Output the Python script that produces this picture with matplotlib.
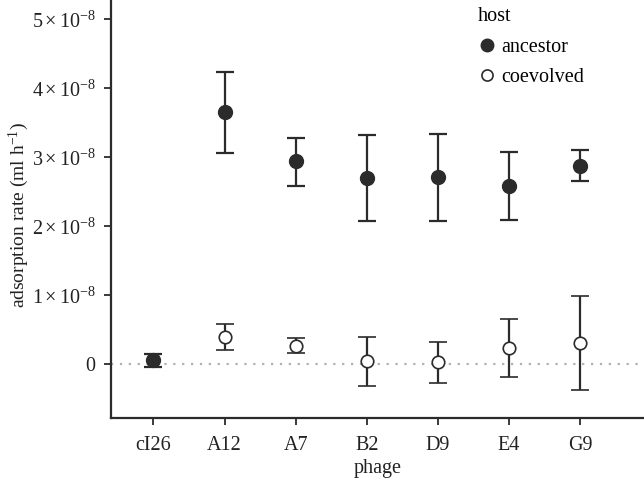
import matplotlib
matplotlib.use("Agg")
import matplotlib.pyplot as plt
from matplotlib.lines import Line2D
import numpy as np

plt.rcParams['font.family'] = ['Liberation Serif', 'DejaVu Serif']
plt.rcParams['mathtext.fontset'] = 'custom'
plt.rcParams['mathtext.rm'] = 'Liberation Serif'
plt.rcParams['mathtext.it'] = 'Liberation Serif:italic'

phages = ['cI26', 'A12', 'A7', 'B2', 'D9', 'E4', 'G9']

# ancestor host (units of 1e-8 ml/h)
anc_mean = [0.06, 3.65, 2.94, 2.70, 2.71, 2.58, 2.88]
anc_low = [-0.04, 3.06, 2.59, 2.08, 2.08, 2.09, 2.65]
anc_high = [0.145, 4.24, 3.28, 3.32, 3.34, 3.07, 3.11]

# coevolved host (cI26 has no coevolved value)
coe_phages = ['A12', 'A7', 'B2', 'D9', 'E4', 'G9']
coe_mean = [0.40, 0.27, 0.04, 0.03, 0.24, 0.30]
coe_low = [0.21, 0.155, -0.32, -0.27, -0.19, -0.38]
coe_high = [0.58, 0.38, 0.40, 0.32, 0.66, 0.99]

scale = 1e-8
yticks = [0, 1, 2, 3, 4, 5]
ytick_labels = ['0'] + [r'$%d\times10^{-8}$' % v for v in yticks[1:]]

fig = plt.figure(figsize=(6.44, 4.83), dpi=100)
ax = fig.add_axes([0.172, 0.1346, 0.828, 0.8654])

col = '#2b2b2b'
txt = '#222222'
fs = 14.5
xa = np.arange(len(phages))
xc = np.array([phages.index(p) for p in coe_phages])

am = np.array(anc_mean) * scale
ae = np.vstack([am - np.array(anc_low) * scale, np.array(anc_high) * scale - am])
cm = np.array(coe_mean) * scale
ce = np.vstack([cm - np.array(coe_low) * scale, np.array(coe_high) * scale - cm])

ax.axhline(0, color='#b0b0b0', ls=(0, (1, 3)), lw=1.6, zorder=0)

ax.errorbar(xa, am, yerr=ae, fmt='o', color=col, ecolor=col, elinewidth=1.6,
            capsize=6.5, capthick=1.6, markersize=10, markerfacecolor=col,
            markeredgecolor=col, zorder=3)
ax.errorbar(xc, cm, yerr=ce, fmt='o', color=col, ecolor=col, elinewidth=1.6,
            capsize=6.5, capthick=1.6, markersize=9, markerfacecolor='white',
            markeredgecolor=col, markeredgewidth=1.2, zorder=3)

ax.set_xlim(-0.6, 6.9)
ax.set_ylim(-0.78e-8, 5.28e-8)
ax.set_xticks(xa)
ax.set_xticklabels(phages)
ax.set_yticks(np.array(yticks) * scale)
ax.set_yticklabels(ytick_labels)

for s in ['top', 'right']:
    ax.spines[s].set_visible(False)
for s in ['left', 'bottom']:
    ax.spines[s].set_linewidth(1.6)
    ax.spines[s].set_color(col)
ax.tick_params(axis='both', direction='out', length=5, width=1.3, color=col,
               labelsize=fs, labelcolor=txt, pad=6)
ax.tick_params(axis='x', pad=8)

ax.set_xlabel('phage', fontsize=fs, color=txt, labelpad=3)
ax.set_ylabel(r'adsorption rate (ml h$^{-1}$)', fontsize=14, color=txt,
              va='center')
ax.yaxis.set_label_coords(-0.173, 0.485)

handles = [
    Line2D([], [], ls='none', marker='o', markersize=9, markerfacecolor=col,
           markeredgecolor=col),
    Line2D([], [], ls='none', marker='o', markersize=8, markerfacecolor='white',
           markeredgecolor=col, markeredgewidth=1.2),
]
leg = fig.legend(handles, ['ancestor', 'coevolved'], title='host',
                 loc='upper left', bbox_to_anchor=(0.735, 0.993),
                 frameon=False, fontsize=fs, title_fontsize=fs,
                 handletextpad=0.2, labelspacing=0.55, handlelength=1.0,
                 borderaxespad=0.0, borderpad=0.2)
leg._legend_box.align = 'left'

fig.savefig('out.png', dpi=100)
